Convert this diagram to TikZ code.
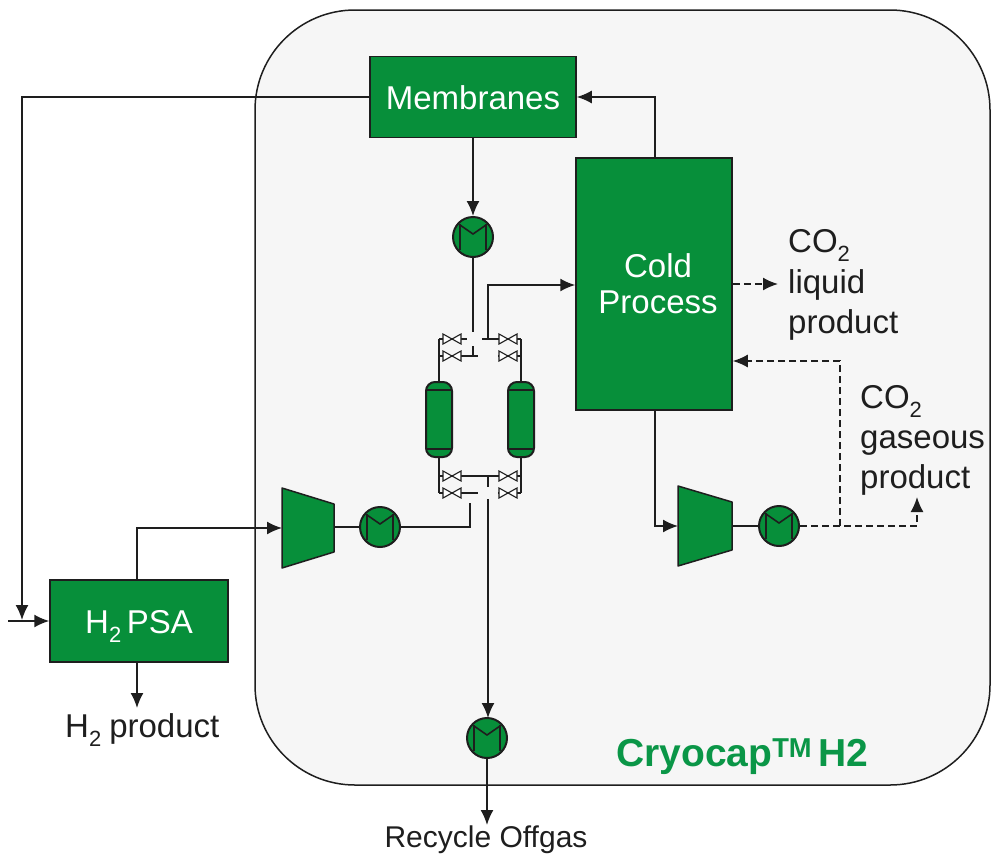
\documentclass[tikz,border=0pt]{standalone}
\usepackage{fontspec}
\setmainfont{Liberation Sans}
\usetikzlibrary{arrows.meta}
\definecolor{grn}{HTML}{078F3A}
\definecolor{brandgrn}{HTML}{0A9647}
\definecolor{ink}{HTML}{1E1E1E}
\definecolor{panel}{HTML}{F6F6F6}
\tikzset{
 conn/.style={draw=ink,line width=1.7pt,-{Latex[length=15pt,width=13pt]}},
 plain/.style={draw=ink,line width=1.7pt},
 dasharrow/.style={draw=ink,line width=1.7pt,dash pattern=on 7pt off 4pt,-{Latex[length=15pt,width=13pt]}},
 box/.style={draw=ink,fill=grn,line width=1.5pt,text=white,font=\fontsize{33}{36}\selectfont,align=center,inner sep=0pt},
 hx/.style={circle,draw=ink,fill=grn,line width=2pt,minimum size=40pt,inner sep=0pt,
   path picture={\draw[ink,line width=1.6pt]
     ([shift={(-13pt,13pt)}]path picture bounding box.center) -- ++(0,-26pt)
     ([shift={(13pt,13pt)}]path picture bounding box.center) -- ++(0,-26pt)
     ([shift={(-13pt,12pt)}]path picture bounding box.center) -- ++(13pt,-9pt) -- ++(13pt,9pt);}},
 txt/.style={text=ink,font=\fontsize{33}{36}\selectfont,inner sep=0pt,align=left},
 valve/.style={draw=ink,fill=white,line width=1.1pt},
 vessel/.style={draw=ink,fill=grn,line width=2pt,rounded corners=9pt},
 comp/.style={draw=ink,fill=grn,line width=1.5pt,line join=round}
}
\newcommand{\valvepair}[2]{\draw[valve] (#1-9,#2-5)--(#1+9,#2+5)--(#1+9,#2-5)--(#1-9,#2+5)--cycle;}
\newcommand{\subtwo}{\raisebox{-9pt}{\fontsize{22}{22}\selectfont 2}}
\begin{document}
\begin{tikzpicture}[x=1pt,y=-1pt]
\useasboundingbox (0,0) rectangle (992,854);
\draw[draw=ink,fill=panel,line width=1.5pt,rounded corners=100pt] (255,10) rectangle (990,785);
% pipes behind
\coordinate (tl) at (439,339); \coordinate (tr) at (521,339);
\coordinate (ml) at (439,356); \coordinate (mr) at (521,356);
\coordinate (bl) at (439,476); \coordinate (br) at (521,476);
\coordinate (cl) at (439,493); \coordinate (cr) at (521,493);
\draw[plain] (tl)--(467,339) (482,339)--(tr);
\draw[plain] (ml)--(478,356) (498,356)--(mr);
\draw[plain] (bl)--(br);
\draw[plain] (cl)--(478,493) (498,493)--(cr);
\draw[plain] (tl)--(439,382) (tr)--(521,382) (439,457)--(cl) (521,457)--(cr);
\foreach \xx/\yy in {452/339,508/339,452/356,508/356,452/476,508/476,452/493,508/493}{\valvepair{\xx}{\yy}}
% vessels
\draw[vessel] (426,382) rectangle (452,457);
\draw[vessel] (508,382) rectangle (534,457);
\draw[ink,line width=1.5pt] (426,390)--(452,390) (426,449)--(452,449) (508,390)--(534,390) (508,449)--(534,449);
% main nodes
\node[box,minimum width=206pt,minimum height=81pt] (mem) at (473,97) {\raisebox{-12pt}[0pt][0pt]{Membranes}};
\node[box,minimum width=156pt,minimum height=252pt] (cold) at (654,284) {\raisebox{1pt}{\hspace*{8pt}Cold}\\[-1pt]\hspace*{8pt}Process};
\node[box,minimum width=178pt,minimum height=82pt] (psa) at (139,621) {\raisebox{-12pt}[0pt][0pt]{H\subtwo\,PSA}};
\node[hx] (hxa) at (473,237) {};
\node[hx] (hxb) at (380,527) {};
\node[hx] (hxc) at (779,526) {};
\node[hx] (hxd) at (487,738) {};
\draw[comp] (282,488)--(334,504)--(334,552)--(282,568)--cycle;
\draw[comp] (678,486)--(732,502)--(732,550)--(678,566)--cycle;
\coordinate (cmpaw) at (282,528); \coordinate (cmpae) at (334,527);
\coordinate (cmpbw) at (678,526); \coordinate (cmpbe) at (732,526);
\coordinate (feed) at (8,621);
% connectors
\draw[conn] (mem.west) -- (22,97) -- (22,620);
\draw[conn] (feed) -- (feed -| psa.west);
\draw[conn] (655,158) -- (655,97) -- (mem.east);
\draw[conn] (mem.south -| hxa) -- (hxa.north);
\draw[plain] (hxa.south) -- (473,332);
\draw[plain] (473,346) -- (473,356);
\draw[conn] (488,339) -- (488,285) -- (cold.west |- 0,285);
\draw[dasharrow] (cold.east |- 0,284) -- (778,284);
\draw[dasharrow] (840,526) -- (840,361) -- (cold.east |- 0,361);
\draw[dasharrow] (hxc.east) -- (917,526) -- (917,497);
\draw[conn] (655,410) -- (655,526) -- (cmpbw);
\draw[plain] (cmpbe) -- (hxc.west);
\draw[conn] (137,580) -- (137,528) -- (cmpaw);
\draw[plain] (cmpae) -- (hxb.west);
\draw[plain] (hxb.east) -- (470,527) -- (470,503);
\draw[conn] (137,662) -- (137,708);
\draw[plain] (488,476) -- (488,487);
\draw[conn] (488,499) -- (488,718);
\draw[conn] (hxd.south) -- (487,825);
% labels
\node[txt,anchor=west] (co2a) at (788,245) {CO\subtwo};
\node[txt,anchor=west] (liq) at (788,285) {liquid};
\node[txt,anchor=west] (prod) at (788,325) {product};
\node[txt,anchor=west] (co2b) at (860,401) {CO\subtwo};
\node[txt,anchor=west] (gas) at (860,443) {gaseous};
\node[txt,anchor=west] (prodb) at (860,480) {product};
\node[txt,anchor=west] (hp) at (65,730) {H\subtwo\hspace{8pt}product};
\node[txt,anchor=center,font=\fontsize{30}{36}\selectfont] (rec) at (486,840) {Recycle Offgas};
\node[text=brandgrn,font=\fontsize{39}{40}\selectfont\bfseries,inner sep=0pt,anchor=west] (brand) at (616,757) {Cryocap\textsuperscript{TM}\,H2};
\end{tikzpicture}
\end{document}
